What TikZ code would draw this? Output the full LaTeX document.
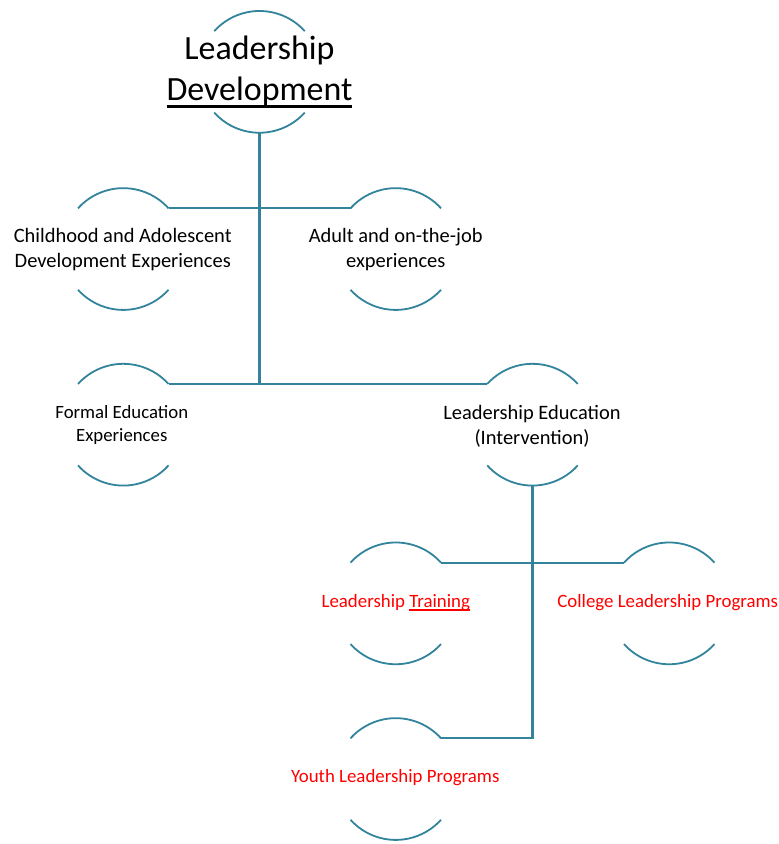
\documentclass[tikz,border=0pt]{standalone}
\usepackage{fontspec}
\setmainfont{Carlito}
\definecolor{lineblue}{HTML}{31849B}
\definecolor{txtred}{HTML}{FF0000}
\newlength{\ulwd}
\newcommand{\myul}[3]{\settowidth{\ulwd}{#1}\rlap{\rule[#2]{\ulwd}{#3}}#1}
\begin{document}
\begin{tikzpicture}[x=1pt,y=-1pt,
  ring/.style={circle,draw=none,minimum size=122pt,inner sep=0pt,outer sep=0pt},
  arcline/.style={draw=lineblue,line width=1.8pt},
  conn/.style={draw=lineblue,line width=2.2pt},
  lbl/.style={align=center,inner sep=0pt,font=\fontsize{20.5}{25.5}\selectfont},
  lblsm/.style={align=center,inner sep=0pt,font=\fontsize{18.8}{23.5}\selectfont},
  lblred/.style={align=center,inner sep=0pt,text=txtred,font=\fontsize{18.9}{23}\selectfont},
  lbltitle/.style={align=center,inner sep=0pt,font=\fontsize{34}{41}\selectfont}]
\fill[white] (0,0) rectangle (779,844);
\newcommand{\tworings}[1]{%
  \draw[arcline] (#1.42) arc[start angle=42,end angle=138,radius=61pt];
  \draw[arcline] (#1.222) arc[start angle=222,end angle=318,radius=61pt];}
% rings
\node[ring] (cLD) at (260,72) {};
\node[ring] (cCH) at (123.5,249.5) {};
\node[ring] (cAD) at (396.5,249.5) {};
\node[ring] (cFE) at (123.5,425.5) {};
\node[ring] (cLE) at (533.5,425.5) {};
\node[ring] (cLT) at (396.5,604.5) {};
\node[ring] (cCL) at (670.5,604.5) {};
\node[ring] (cYL) at (396.5,780.5) {};
\tworings{cLD}\tworings{cCH}\tworings{cAD}\tworings{cFE}
\tworings{cLE}\tworings{cLT}\tworings{cCL}\tworings{cYL}
% labels
\node[lbltitle] (tLD) at (260,72) {Leadership\\\myul{Development}{-7pt}{3pt}};
\node[lbl] (tCH) at (123,250) {Childhood and Adolescent\\Development Experiences};
\node[lbl] (tAD) at (396.5,250) {Adult and on-the-job\\experiences};
\node[lblsm] (tFE) at (122,426) {Formal Education\\Experiences};
\node[lbl] (tLE) at (533,427) {Leadership Education\\(Intervention)};
\node[lblred] (tLT) at (396.5,604) {Leadership \myul{Training}{-3.5pt}{2pt}};
\node[lblred] (tCL) at (669,604) {College Leadership Programs};
\node[lblred] (tYL) at (396,779) {Youth Leadership Programs};
% connectors
\coordinate (jLD) at (cLD.270 |- cFE.42);
\coordinate (jLE) at (cLE.270 |- cYL.42);
\draw[conn] (cCH.42) -- (cAD.138);
\draw[conn] (cLD.270) -- (jLD);
\draw[conn] (cFE.42) -- (cLE.138);
\draw[conn] (cLE.270) -- (jLE) -- (cYL.42);
\draw[conn] (cLT.42) -- (cCL.138);
\end{tikzpicture}
\end{document}
